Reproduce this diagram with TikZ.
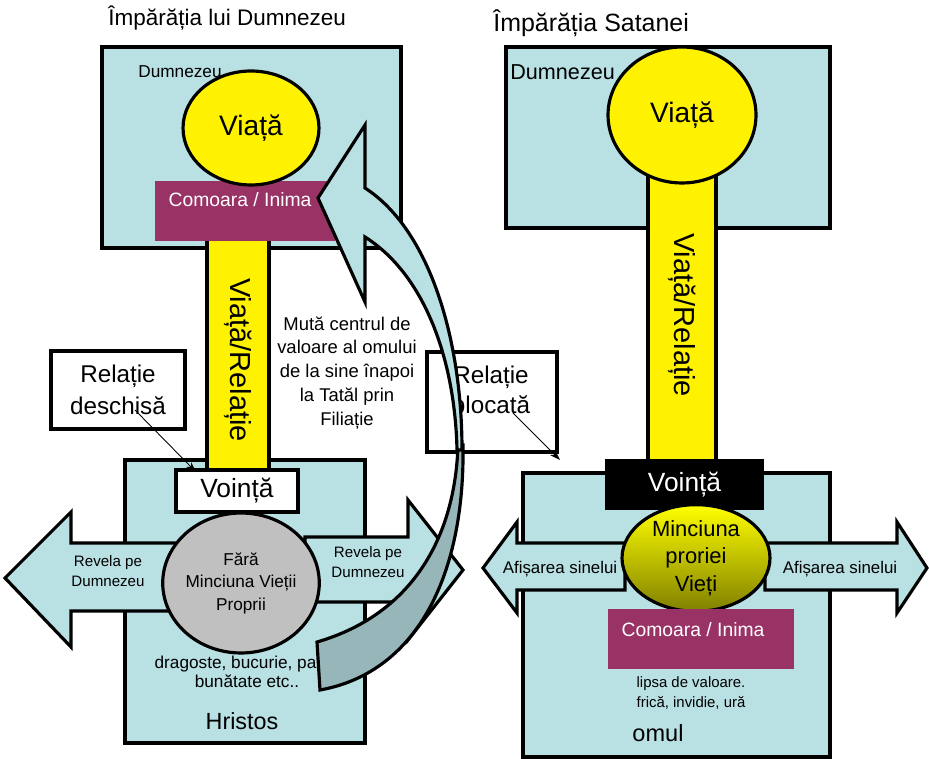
\documentclass[tikz,border=0pt]{standalone}
\usepackage{xcolor}
\usepackage{fontspec}
\setmainfont{Liberation Sans}
\usepackage{tikz}
\usetikzlibrary{shapes, arrows.meta, positioning}

\definecolor{kbg}{RGB}{185,224,227}
\definecolor{heart}{RGB}{153,51,102}
\definecolor{ribdark}{RGB}{150,182,185}
\definecolor{liebot}{RGB}{128,128,0}
\definecolor{nolie}{RGB}{192,192,192}
\newcommand{\fs}[2]{\fontsize{#1}{#2}\selectfont}

\tikzset{
  realm/.style={draw, rectangle, fill=kbg, line width=1.8pt, inner sep=0pt},
  pillar/.style={draw, rectangle, fill=yellow, line width=1.8pt, inner sep=0pt, rotate=-90, font=\fs{16.5}{20}},
  life/.style={draw, ellipse, fill=yellow, line width=1.8pt, inner sep=0pt, font=\fs{16}{19}},
  heartbox/.style={rectangle, fill=heart, inner sep=0pt},
  heartlbl/.style={text=white, inner sep=0pt, font=\fs{11}{13}},
  willbox/.style={draw, rectangle, line width=1.8pt, inner sep=0pt, font=\fs{15}{18}},
  relbox/.style={draw, rectangle, fill=white, line width=1.8pt, align=center, inner sep=0pt, font=\fs{13.8}{18}},
  blockarr/.style={draw, fill=kbg, line width=1.8pt, line join=miter},
  ribbon/.style={draw, line width=1.8pt, line join=miter},
  pointer/.style={-{Stealth[length=6pt, width=4pt]}, line width=0.5pt},
  lbl/.style={align=center, inner sep=0pt},
}

\begin{document}
\begin{tikzpicture}[x=0.02cm, y=-0.02cm]
\useasboundingbox (0,0) rectangle (929,759);

% ---- Imparatia lui Dumnezeu ----
\node[lbl, anchor=west, font=\fs{12.8}{14}] (titleL) at (108,18) {Împărăția lui Dumnezeu};
\node[realm, minimum width=5.98cm, minimum height=4.02cm] (godL) at (251.5,147.5) {};
\node[lbl, anchor=west, font=\fs{9.8}{12}] (dumL) at (138,72) {Dumnezeu};
\node[realm, minimum width=4.8cm, minimum height=5.66cm] (hristos) at (245,601.5) {};
\node[pillar, minimum width=5.2cm, minimum height=1.24cm] (colL) at (238,360) {Viață/Relație};
\node[heartbox, minimum width=3.6cm, minimum height=1.2cm] (comL) at (245,211) {};
\node[heartlbl] (comLtxt) at (240,200) {Comoara / Inima};
\node[life, minimum width=2.72cm, minimum height=2.28cm] (vitL) at (251,128) {Viață};
\node[willbox, fill=white, minimum width=2.44cm, minimum height=0.84cm] (volL) at (237,491) {Voință};

% arrows out of Hristos
\draw[blockarr] (177,543) -- (71,543) -- (71,512) -- (5,578) -- (71,647) -- (71,611) -- (177,611) -- cycle;
\draw[blockarr] (305,537) -- (408,537) -- (408,500) -- (463,570) -- (408,640) -- (408,602) -- (305,602) -- cycle;
\node[lbl, font=\fs{8.6}{11}] (revL) at (108,571) {Revela pe\\Dumnezeu};
\node[lbl, font=\fs{8.6}{11}] (revR) at (368,562) {Revela pe\\Dumnezeu};
\node[draw, ellipse, fill=nolie, line width=1.8pt, minimum width=2.6cm, minimum height=2.8cm, lbl, font=\fs{9.8}{12.8}] (nolie) at (241,583) {Fără\\Minciuna Vieții\\Proprii};
\node[lbl, font=\fs{9.8}{10.8}] (fruit) at (247,672) {dragoste, bucurie, pace,\\bunătate etc..};
\node[lbl, font=\fs{13.3}{16}] (hristosTxt) at (242,721) {Hristos};

\node[lbl, font=\fs{10.5}{13.6}] (move) at (347,373) {Mută centrul de\\valoare al omului\\de la sine înapoi\\la Tatăl prin\\Filiație};

\node[relbox, minimum width=2.68cm, minimum height=1.56cm] (relL) at (118,390) {Relație\\deschisă};
\coordinate (dsA) at (135,410);
\coordinate (dsB) at (196,472);
\draw[pointer] (dsA) -- (dsB);

% ---- Imparatia Satanei ----
\node[lbl, anchor=west, font=\fs{14.2}{16}] (titleR) at (493,23) {Împărăția Satanei};
\node[realm, minimum width=6.48cm, minimum height=3.62cm] (godR) at (668,137.5) {};
\node[lbl, anchor=west, font=\fs{12.3}{14}] (dumR) at (510,72) {Dumnezeu};
\node[realm, minimum width=6.14cm, minimum height=5.68cm] (omul) at (676.5,615) {};
\node[pillar, minimum width=6.6cm, minimum height=1.36cm] (colR) at (682,315) {Viață/Relație};
\node[life, minimum width=2.96cm, minimum height=2.72cm] (vitR) at (682,115) {Viață};
\node[willbox, fill=black, text=white, minimum width=3.1cm, minimum height=0.94cm] (volR) at (684.5,484.5) {Voință};

\draw[blockarr] (625,543) -- (517,543) -- (517,522) -- (483,568) -- (517,613) -- (517,590) -- (625,590) -- cycle;
\draw[blockarr] (765,543) -- (897,543) -- (897,522) -- (927,568) -- (897,613) -- (897,590) -- (765,590) -- cycle;
\node[lbl, font=\fs{9.6}{12}] (showL) at (560,569) {Afișarea sinelui};
\node[lbl, font=\fs{9.6}{12}] (showR) at (840,569) {Afișarea sinelui};
\node[draw, ellipse, line width=1.8pt, top color=yellow, bottom color=liebot, minimum width=2.96cm, minimum height=2.08cm, lbl, font=\fs{12.5}{15.6}] (lie) at (696,558) {Minciuna\\proriei\\Vieți};
\node[heartbox, minimum width=3.72cm, minimum height=1.2cm] (comR) at (701,639) {};
\node[heartlbl] (comRtxt) at (693,630) {Comoara / Inima};
\node[lbl, font=\fs{8.5}{11.3}] (lack) at (691,693) {lipsa de valoare.\\frică, invidie, ură};
\node[lbl, font=\fs{13.4}{16}] (omulTxt) at (658,733) {omul};

\node[relbox, minimum width=2.6cm, minimum height=2cm] (relR) at (492,402) {};
\node[lbl, font=\fs{13.8}{17}] (relRtxt) at (491,390) {Relație\\blocată};
\coordinate (blA) at (513,413);
\coordinate (blB) at (560,460);
\draw[pointer] (blA) -- (blB);

% curved arrow back to the heart
\draw[ribbon, fill=ribdark] (458,445) .. controls (455,540) and (410,615) .. (317,642) -- (320,690) .. controls (420,672) and (465,570) .. (463,445) -- cycle;
\draw[ribbon, fill=kbg] (318,198) -- (365,125) -- (365,188) .. controls (430,230) and (462,340) .. (462,450) -- (457,450) .. controls (455,360) and (425,275) .. (365,237) -- (365,302) -- cycle;
\end{tikzpicture}
\end{document}
